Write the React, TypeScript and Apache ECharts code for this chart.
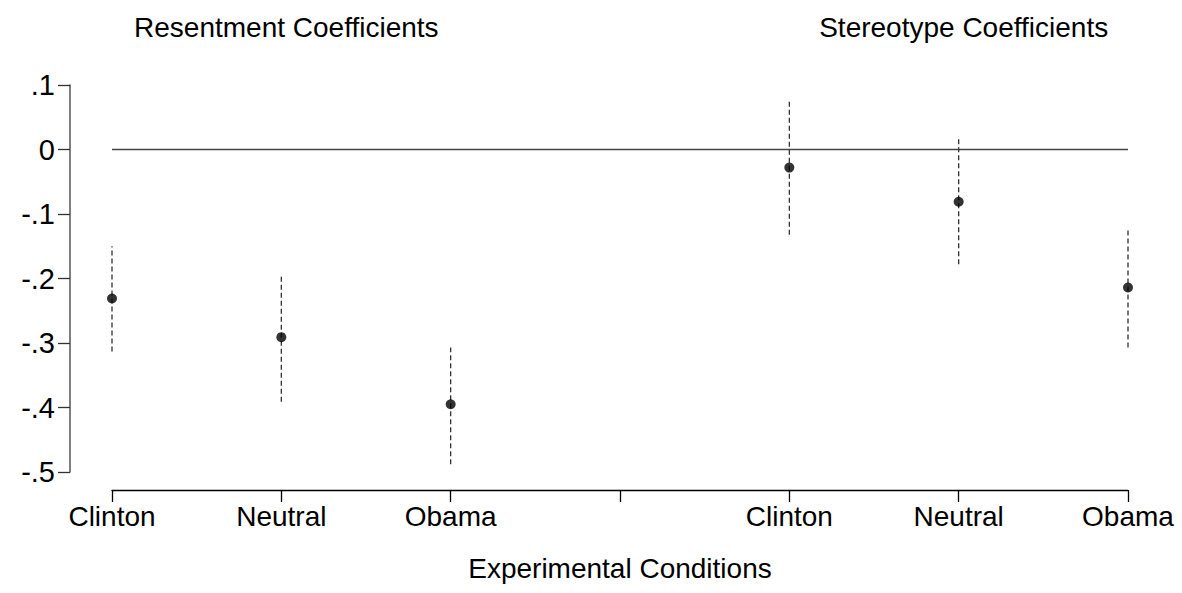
import React, { useEffect, useRef } from "react";
import * as echarts from "echarts";

const categories = ["Clinton", "Neutral", "Obama", "", "Clinton", "Neutral", "Obama"];
const groupTitles = ["Resentment Coefficients", "Stereotype Coefficients"];
const groupCenters = [1, 5];
const positions = [0, 1, 2, 4, 5, 6];
const estimates = [-0.231, -0.291, -0.395, -0.028, -0.081, -0.214];
const upper = [-0.15, -0.197, -0.307, 0.076, 0.02, -0.124];
const lower = [-0.313, -0.391, -0.488, -0.132, -0.178, -0.307];
const yTicks = [0.1, 0, -0.1, -0.2, -0.3, -0.4, -0.5];
const xTitle = "Experimental Conditions";

const FONT = "'Liberation Sans', Arial, Helvetica, sans-serif";

export default function App() {
  const ref = useRef<HTMLDivElement>(null);
  useEffect(() => {
    if (!ref.current) return;
    const chart = echarts.init(ref.current, undefined, { renderer: "svg" });
    const gridLeft = 112;
    const gridRight = 54;
    const gridWidth = 1182 - gridLeft - gridRight;
    const toPx = (x: number) => gridLeft + (x / 6) * gridWidth;
    chart.setOption({
      animation: false,
      backgroundColor: "#ffffff",
      textStyle: { fontFamily: FONT },
      title: groupTitles.map((t, i) => ({
        text: t,
        left: toPx(groupCenters[i]),
        textAlign: "center",
        top: 8,
        textStyle: { fontFamily: FONT, fontSize: 28, fontWeight: "normal", color: "#000" },
      })),
      grid: { left: gridLeft, right: gridRight, top: 85, bottom: 593 - 472 },
      xAxis: {
        type: "value",
        min: 0,
        max: 6,
        interval: 1,
        offset: 18,
        name: xTitle,
        nameLocation: "middle",
        nameGap: 64,
        nameTextStyle: { fontFamily: FONT, fontSize: 28, color: "#000" },
        axisLine: { show: true, onZero: false, lineStyle: { color: "#000", width: 1.3 } },
        axisTick: { show: true, inside: false, length: 12, lineStyle: { color: "#000", width: 1.3 } },
        axisLabel: {
          margin: 12,
          fontFamily: FONT,
          fontSize: 28,
          color: "#000",
          formatter: (v: number) => categories[Math.round(v)] ?? "",
        },
        splitLine: { show: false },
      },
      yAxis: {
        type: "value",
        min: -0.5,
        max: 0.1,
        interval: 0.1,
        offset: 42,
        axisLine: { show: true, onZero: false, lineStyle: { color: "#555", width: 1.5 } },
        axisTick: { show: true, inside: false, length: 12, lineStyle: { color: "#333", width: 1.3 } },
        axisLabel: {
          margin: 15,
          fontFamily: FONT,
          fontSize: 29,
          color: "#000",
          formatter: (v: number) => {
            const r = Math.round(v * 10) / 10;
            if (Math.abs(r) < 1e-9) return "0";
            const match = yTicks.find((t) => Math.abs(t - r) < 1e-9);
            const val = match ?? r;
            return val.toFixed(1).replace("0.", ".");
          },
        },
        splitLine: { show: false },
      },
      series: [
        {
          type: "line",
          data: [
            [0, 0],
            [6, 0],
          ],
          symbol: "none",
          lineStyle: { color: "#444", width: 1.3 },
          silent: true,
          z: 1,
        },
        {
          type: "custom",
          data: positions.map((p, i) => [p, lower[i], upper[i]]),
          renderItem: (params: any, api: any) => {
            const x = api.value(0);
            const a = api.coord([x, api.value(1)]);
            const b = api.coord([x, api.value(2)]);
            return {
              type: "line",
              shape: { x1: a[0], y1: a[1], x2: b[0], y2: b[1] },
              style: { stroke: "#333", lineWidth: 1.3, lineDash: [5, 3] },
            };
          },
          z: 2,
        },
        {
          type: "scatter",
          data: positions.map((p, i) => [p, estimates[i]]),
          symbol: "circle",
          symbolSize: 10,
          itemStyle: { color: "#000" },
          z: 3,
        },
      ],
    });
    return () => chart.dispose();
  }, []);
  return (
    <div
      ref={ref}
      style={{ position: "fixed", left: 0, top: 0, width: 1182, height: 593, background: "#fff" }}
    />
  );
}
